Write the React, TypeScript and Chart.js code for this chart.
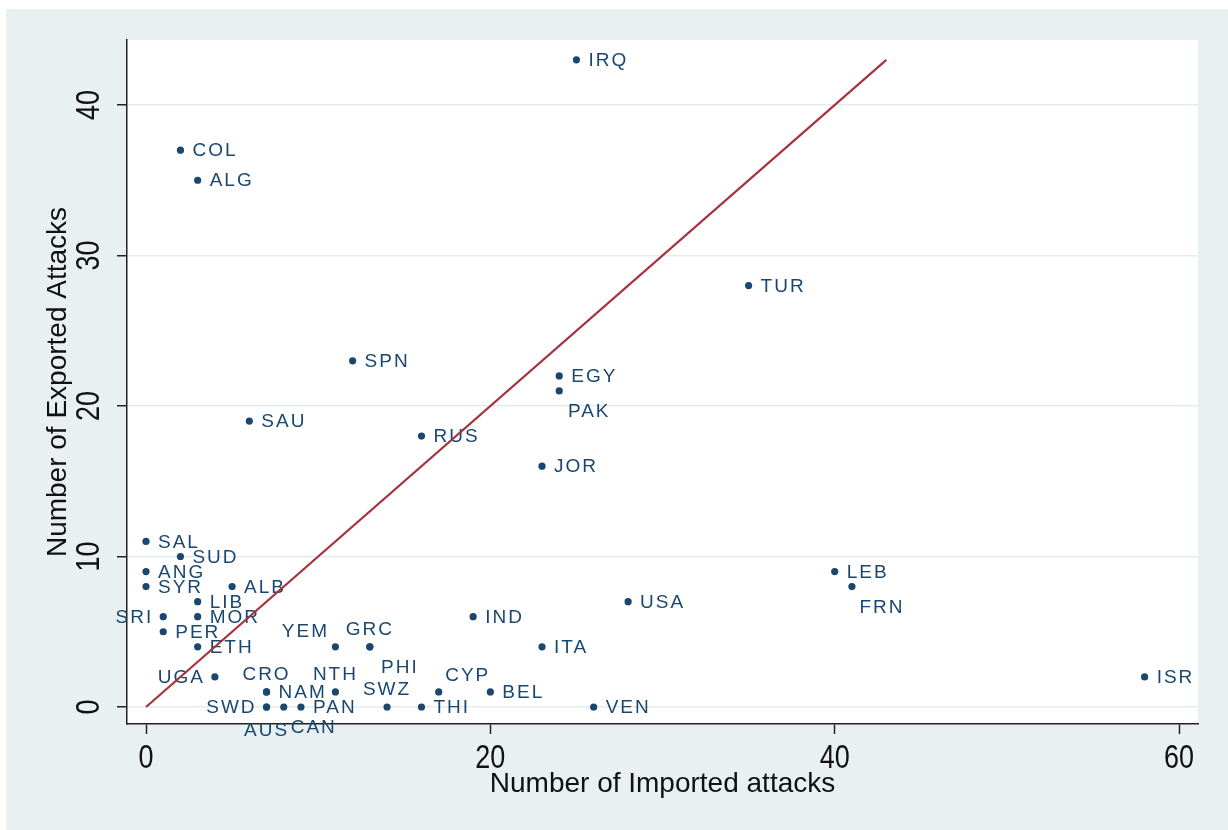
import { useEffect, useRef } from "react";
import { Chart, registerables } from "chart.js";

Chart.register(...registerables);

// ---- data ----
const countries = [
  "IRQ", "COL", "ALG", "TUR", "SPN", "EGY", "PAK", "SAU", "RUS", "JOR",
  "SAL", "SUD", "ANG", "SYR", "ALB", "LIB", "SRI", "MOR", "PER", "ETH",
  "YEM", "GRC", "PHI", "UGA", "CRO", "NAM", "NTH", "CYP", "BEL", "SWD",
  "AUS", "CAN", "PAN", "SWZ", "THI", "VEN", "IND", "ITA", "USA", "LEB",
  "FRN", "ISR",
];
const importedAttacks = [
  25, 2, 3, 35, 12, 24, 24, 6, 16, 23,
  0, 2, 0, 0, 5, 3, 1, 3, 1, 3,
  11, 13, 13, 4, 7, 7, 11, 17, 20, 7,
  7, 8, 9, 14, 16, 26, 19, 23, 28, 40,
  41, 58,
];
const exportedAttacks = [
  43, 37, 35, 28, 23, 22, 21, 19, 18, 16,
  11, 10, 9, 8, 8, 7, 6, 6, 5, 4,
  4, 4, 4, 2, 1, 1, 1, 1, 1, 0,
  0, 0, 0, 0, 0, 0, 6, 4, 7, 9,
  8, 2,
];
const xTickValues = [0, 20, 40, 60];
const yTickValues = [0, 10, 20, 30, 40];
const xTitle = "Number of Imported attacks";
const yTitle = "Number of Exported Attacks";

// marker-label clock positions (default 3 o'clock)
const labelClock: Record<string, number> = {
  YEM: 11, GRC: 12, PHI: 5, UGA: 9, SRI: 9, CRO: 12, NTH: 12, CYP: 1,
  SWD: 9, AUS: 6, CAN: 5, SWZ: 12, PAK: 5, FRN: 5,
};

// ---- style ----
const NAVY = "#1a476f";
const LINE_RED = "#a5323c";
const AXIS = "#222222";
const GRID = "#e3ecef";
const OUTER_BG = "#e8f0f2";
const FONT = '"Liberation Sans", Arial, sans-serif';

function clockOffset(clock: number): [number, number, CanvasTextAlign] {
  switch (clock) {
    case 9: return [-10, 1, "right"];
    case 12: return [0, -17, "center"];
    case 6: return [0, 24, "center"];
    case 5: return [30, 21, "center"];
    case 1: return [29, -16, "center"];
    case 11: return [-30, -15, "center"];
    default: return [12, 1, "left"];
  }
}

export default function App() {
  const ref = useRef<HTMLCanvasElement>(null);

  useEffect(() => {
    const canvas = ref.current!;
    const diagMax = Math.max(...exportedAttacks);

    const bgPlugin = {
      id: "plotBg",
      beforeDraw(chart: any) {
        const { ctx, chartArea: a } = chart;
        ctx.save();
        ctx.fillStyle = "#ffffff";
        ctx.fillRect(a.left, a.top, a.right - a.left, a.bottom - a.top);
        ctx.restore();
      },
    };

    const pointLabelPlugin = {
      id: "pointLabels",
      afterDatasetDraw(chart: any, args: any) {
        if (args.index !== 0) return;
        const meta = chart.getDatasetMeta(0);
        const ctx = chart.ctx as CanvasRenderingContext2D;
        ctx.save();
        ctx.font = `19px ${FONT}`;
        (ctx as any).letterSpacing = "2px";
        ctx.fillStyle = NAVY;
        ctx.textBaseline = "middle";
        meta.data.forEach((el: any, i: number) => {
          const name = countries[i];
          const [dx, dy, align] = clockOffset(labelClock[name] ?? 3);
          ctx.textAlign = align;
          ctx.fillText(name, el.x + dx, el.y + dy);
        });
        ctx.restore();
      },
    };

    const tickLabelPlugin = {
      id: "tickLabels",
      afterDraw(chart: any) {
        const ctx = chart.ctx as CanvasRenderingContext2D;
        const a = chart.chartArea;
        const xs = chart.scales.x;
        const ys = chart.scales.y;
        ctx.save();
        ctx.fillStyle = "#111111";
        ctx.font = `27px ${FONT}`;
        ctx.textAlign = "center";
        ctx.textBaseline = "middle";
        xs.ticks.forEach((t: any) => {
          const px = xs.getPixelForValue(t.value);
          ctx.save();
          ctx.translate(px, a.bottom + 35);
          ctx.scale(1, 1.2);
          ctx.fillText(String(t.value), 0, 0);
          ctx.restore();
        });
        ys.ticks.forEach((t: any) => {
          const py = ys.getPixelForValue(t.value);
          ctx.save();
          ctx.translate(a.left - 37, py);
          ctx.rotate(-Math.PI / 2);
          ctx.scale(1, 1.2);
          ctx.fillText(String(t.value), 0, 0);
          ctx.restore();
        });
        ctx.restore();
      },
    };

    const chart = new Chart(canvas, {
      type: "scatter",
      data: {
        datasets: [
          {
            type: "scatter",
            data: countries.map((_, i) => ({ x: importedAttacks[i], y: exportedAttacks[i] })),
            pointRadius: 3.6,
            pointHoverRadius: 3.6,
            backgroundColor: NAVY,
            borderWidth: 0,
            order: 1,
          } as any,
          {
            type: "line",
            data: [{ x: 0, y: 0 }, { x: diagMax, y: diagMax }],
            borderColor: LINE_RED,
            borderWidth: 2.2,
            pointRadius: 0,
            fill: false,
            order: 0,
          } as any,
        ],
      },
      options: {
        responsive: false,
        animation: false,
        events: [],
        layout: { padding: { left: 0, top: 31, right: 30, bottom: 0 } },
        plugins: {
          legend: { display: false },
          tooltip: { enabled: false },
        },
        scales: {
          x: {
            type: "linear",
            position: "bottom",
            min: -1.104,
            max: 61.1,
            afterBuildTicks: (s: any) => {
              s.ticks = xTickValues.map((v) => ({ value: v }));
            },
            afterFit: (s: any) => {
              s.height = 106;
            },
            ticks: { display: false },
            grid: {
              drawOnChartArea: false,
              drawTicks: true,
              tickLength: 10,
              tickColor: AXIS,
              tickWidth: 1.5,
            },
            border: { display: true, color: AXIS, width: 1.5 },
            title: {
              display: true,
              text: xTitle,
              color: "#111111",
              font: { family: FONT, size: 28, lineHeight: 1.2 },
              padding: { top: 0, bottom: 29 },
            },
          },
          y: {
            type: "linear",
            position: "left",
            min: -1.13,
            max: 44.32,
            afterBuildTicks: (s: any) => {
              s.ticks = yTickValues.map((v) => ({ value: v }));
            },
            afterFit: (s: any) => {
              s.width = 121;
            },
            ticks: { display: false },
            grid: {
              display: true,
              drawOnChartArea: true,
              color: GRID,
              lineWidth: 1.5,
              drawTicks: true,
              tickLength: 10,
              tickColor: AXIS,
              tickWidth: 1.5,
            },
            border: { display: true, color: AXIS, width: 1.5 },
            title: {
              display: true,
              text: yTitle,
              color: "#111111",
              font: { family: FONT, size: 28, lineHeight: 1.2 },
              padding: { top: 35, bottom: 0 },
            },
          },
        },
      } as any,
      plugins: [bgPlugin, pointLabelPlugin, tickLabelPlugin],
    });

    return () => chart.destroy();
  }, []);

  return (
    <div
      style={{
        position: "fixed",
        left: 6,
        top: 9,
        width: 1222,
        height: 821,
        background: OUTER_BG,
      }}
    >
      <canvas ref={ref} width={1222} height={821} style={{ display: "block" }} />
    </div>
  );
}
